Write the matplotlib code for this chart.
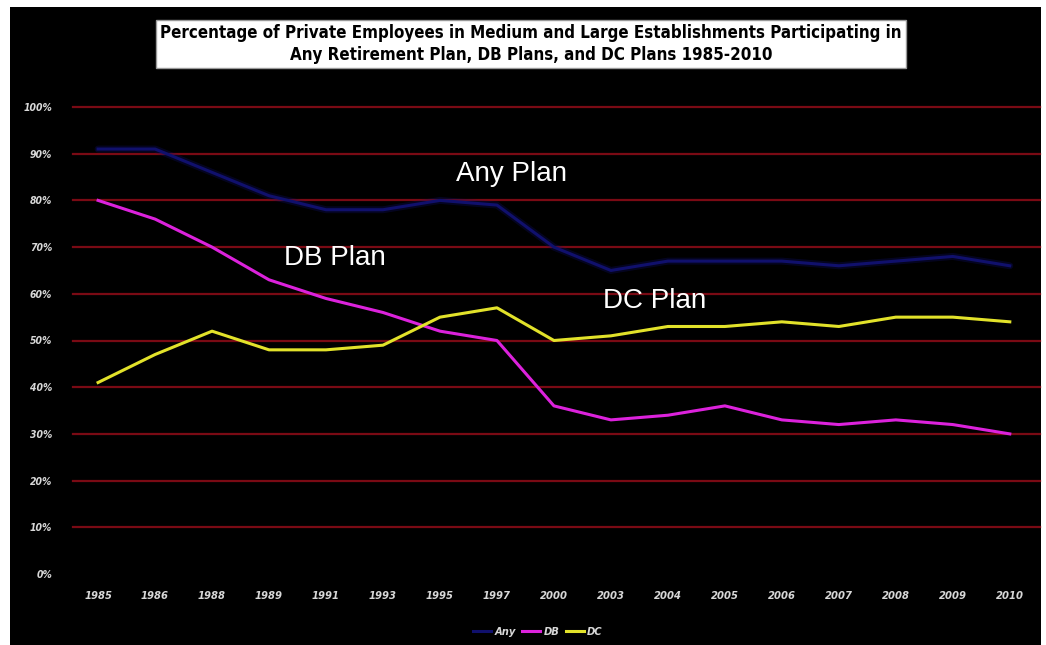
import matplotlib
matplotlib.use("Agg")
import matplotlib.pyplot as plt
from matplotlib.lines import Line2D
from matplotlib import font_manager

years = ["1985", "1986", "1988", "1989", "1991", "1993", "1995", "1997", "2000",
         "2003", "2004", "2005", "2006", "2007", "2008", "2009", "2010"]
any_plan = [91, 91, 86, 81, 78, 78, 80, 79, 70, 65, 67, 67, 67, 66, 67, 68, 66]
db_plan = [80, 76, 70, 63, 59, 56, 52, 50, 36, 33, 34, 36, 33, 32, 33, 32, 30]
dc_plan = [41, 47, 52, 48, 48, 49, 55, 57, 50, 51, 53, 53, 54, 53, 55, 55, 54]
y_ticks = [0, 10, 20, 30, 40, 50, 60, 70, 80, 90, 100]

title_text = ("Percentage of Private Employees in Medium and Large Establishments Participating in\n"
              "Any Retirement Plan, DB Plans, and DC Plans 1985-2010")

names = {f.name for f in font_manager.fontManager.ttflist}
narrow = "Liberation Sans Narrow" if "Liberation Sans Narrow" in names else "DejaVu Sans"
stretch = "normal" if narrow == "Liberation Sans Narrow" else "condensed"

W, H = 1046, 645
fig = plt.figure(figsize=(W / 100, H / 100), dpi=100)
fig.patch.set_facecolor("white")

# black panel behind everything
bg = fig.add_axes([10 / W, 0, (1041 - 10) / W, (H - 7) / H], zorder=-5)
bg.set_facecolor("black")
bg.set_xticks([])
bg.set_yticks([])
for s in bg.spines.values():
    s.set_visible(False)

ax = fig.add_axes([73 / W, (H - 574) / H, (1040 - 73) / W, (574 - 107) / H])
ax.set_facecolor("none")
x = list(range(len(years)))
ax.set_xlim(-0.44, len(years) - 1 + 0.53)
ax.set_ylim(0, 100)

for v in y_ticks[1:]:
    ax.axhline(v, color="#7a0a14", lw=1.6, zorder=1, clip_on=False)

any_color = "#10106c"
db_color = "#dc22dc"
dc_color = "#e2e22a"
ax.plot(x, any_plan, color=any_color, lw=5, alpha=0.3, zorder=2, solid_capstyle="round")
ax.plot(x, any_plan, color=any_color, lw=2.2, zorder=3)
ax.plot(x, db_plan, color=db_color, lw=2.2, zorder=3)
ax.plot(x, dc_plan, color=dc_color, lw=2.2, zorder=3)

ax.set_yticks(y_ticks)
ax.set_yticklabels([f"{v}%" for v in y_ticks], fontsize=7.5, fontweight="bold",
                   fontstyle="italic", color="#d8d8d8", family=narrow, fontstretch=stretch)
ax.set_xticks(x)
ax.set_xticklabels(years, fontsize=8, fontweight="bold", fontstyle="italic",
                   color="#d8d8d8", family=narrow, fontstretch=stretch)
ax.tick_params(axis="y", length=0, pad=15)
ax.tick_params(axis="x", length=0, pad=12)
for s in ax.spines.values():
    s.set_visible(False)

# series labels
label_kw = dict(color="white", fontsize=20, ha="left", va="baseline", family="Liberation Sans")
ax.text(6.28, 84.2, "Any Plan", **label_kw)
ax.text(3.26, 66.2, "DB Plan", **label_kw)
ax.text(8.86, 57.0, "DC Plan", **label_kw)

# title box
fig.text(531 / W, 1 - 44 / H, title_text, ha="center", va="center", fontsize=12.2,
         fontweight="bold", family=narrow, fontstretch=stretch, color="black",
         linespacing=1.3,
         bbox=dict(boxstyle="square,pad=0.25", facecolor="white", edgecolor="#999999", lw=1))

handles = [Line2D([], [], color=any_color, lw=2.2),
           Line2D([], [], color=db_color, lw=2.2),
           Line2D([], [], color=dc_color, lw=2.2)]
leg = fig.legend(handles, ["Any", "DB", "DC"], loc="center", bbox_to_anchor=(538 / W, 1 - 632 / H),
                 ncol=3, frameon=False, fontsize=8, handlelength=1.6, handletextpad=0.3,
                 columnspacing=0.6)
for t in leg.get_texts():
    t.set_color("#d8d8d8")
    t.set_fontweight("bold")
    t.set_fontstyle("italic")
    t.set_family(narrow)
    t.set_fontstretch(stretch)

fig.savefig("out.png", dpi=100, facecolor="white")
